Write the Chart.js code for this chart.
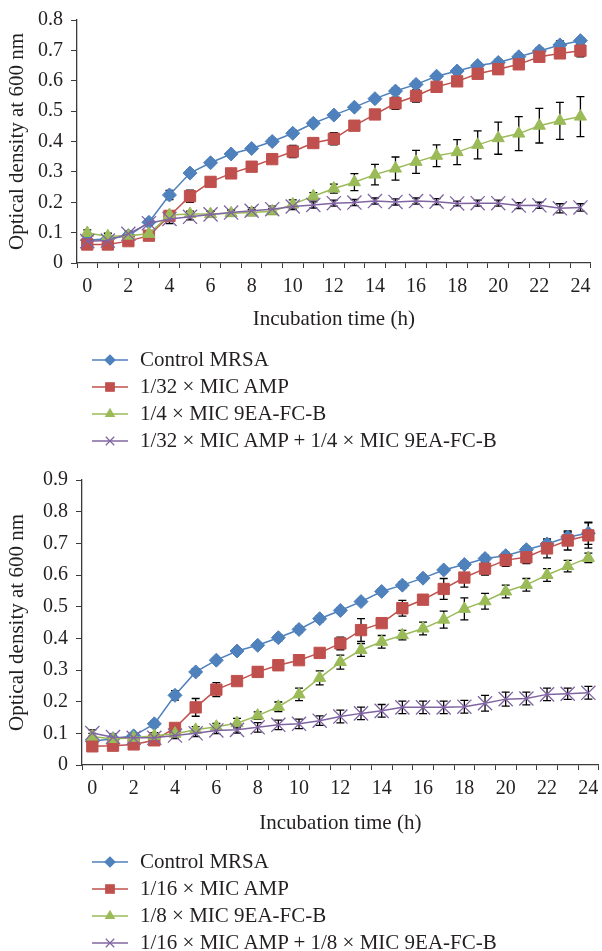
<!DOCTYPE html>
<html>
<head>
<meta charset="utf-8">
<script src="https://cdn.jsdelivr.net/npm/chart.js@4/dist/chart.umd.min.js"></script>
<style>
  body { margin: 0; width: 602px; height: 951px; overflow: hidden; background: #fff; }
  .plot { position: relative; overflow: hidden; width: 602px; }
  .legend { font-family: 'Liberation Serif', serif; font-size: 21px; color: #231f20; }
  .legend .row { display: flex; align-items: center; height: 27px; }
  .legend canvas { margin-left: 92px; margin-right: 12px; }
</style>
</head>
<body>
<div class="plot" style="height:340px"><canvas id="chartA" width="602" height="340"></canvas></div>
<div class="legend" id="legendA" style="height:120px;padding-top:6px;box-sizing:border-box"></div>
<div class="plot" style="height:380px"><canvas id="chartB" width="610" height="380"></canvas></div>
<div class="legend" id="legendB" style="height:111px;padding-top:8px;box-sizing:border-box"></div>
<script>
'use strict';

const hours = ['0','1','2','3','4','5','6','7','8','9','10','11','12','13','14','15','16','17','18','19','20','21','22','23','24'];

// panel A
const namesA = ['Control MRSA', '1/32 × MIC AMP', '1/4 × MIC 9EA-FC-B', '1/32 × MIC AMP + 1/4 × MIC 9EA-FC-B'];
const ctrlA  = [0.075,0.080,0.090,0.134,0.224,0.296,0.330,0.359,0.377,0.400,0.427,0.460,0.487,0.513,0.541,0.566,0.588,0.615,0.632,0.650,0.660,0.679,0.698,0.718,0.732];
const ampA   = [0.061,0.061,0.072,0.090,0.155,0.220,0.267,0.295,0.317,0.342,0.367,0.395,0.409,0.452,0.489,0.526,0.550,0.580,0.598,0.623,0.638,0.654,0.679,0.690,0.699];
const eaA    = [0.099,0.088,0.090,0.096,0.158,0.161,0.161,0.164,0.166,0.170,0.193,0.220,0.245,0.266,0.291,0.311,0.333,0.353,0.365,0.389,0.411,0.426,0.452,0.468,0.482];
const comboA = [0.072,0.074,0.096,0.131,0.145,0.152,0.160,0.166,0.172,0.177,0.186,0.191,0.197,0.199,0.204,0.201,0.204,0.202,0.196,0.197,0.197,0.189,0.190,0.180,0.183];
const ctrlErrA  = [0.005,0.005,0.005,0.010,0.015,0.010,0.008,0.008,0.008,0.010,0.010,0.010,0.008,0.008,0.008,0.010,0.010,0.008,0.010,0.010,0.010,0.010,0.010,0.013,0.010];
const ampErrA   = [0.005,0.005,0.005,0.010,0.015,0.020,0.015,0.010,0.010,0.010,0.020,0.010,0.020,0.010,0.010,0.020,0.020,0.010,0.015,0.015,0.015,0.010,0.010,0.015,0.020];
const eaErrA    = [0.010,0.010,0.010,0.010,0.010,0.010,0.010,0.010,0.010,0.010,0.015,0.012,0.015,0.028,0.034,0.038,0.038,0.036,0.041,0.046,0.053,0.056,0.057,0.061,0.066];
const comboErrA = [0.010,0.010,0.010,0.010,0.015,0.010,0.010,0.010,0.010,0.010,0.010,0.010,0.010,0.010,0.010,0.010,0.010,0.010,0.008,0.010,0.010,0.010,0.010,0.015,0.012];

// panel B
const namesB = ['Control MRSA', '1/16 × MIC AMP', '1/8 × MIC 9EA-FC-B', '1/16 × MIC AMP + 1/8 × MIC 9EA-FC-B'];
const ctrlB  = [0.075,0.083,0.092,0.130,0.220,0.294,0.331,0.360,0.378,0.402,0.428,0.462,0.488,0.516,0.548,0.568,0.590,0.616,0.633,0.652,0.661,0.680,0.698,0.720,0.732];
const ampB   = [0.059,0.061,0.065,0.078,0.117,0.182,0.238,0.265,0.294,0.315,0.331,0.354,0.384,0.426,0.448,0.495,0.522,0.556,0.592,0.620,0.647,0.656,0.684,0.709,0.725];
const eaB    = [0.090,0.082,0.086,0.092,0.099,0.111,0.121,0.132,0.156,0.184,0.223,0.275,0.325,0.363,0.389,0.410,0.431,0.459,0.493,0.517,0.548,0.569,0.600,0.628,0.654];
const comboB = [0.101,0.088,0.086,0.086,0.093,0.100,0.109,0.111,0.119,0.127,0.130,0.140,0.153,0.163,0.171,0.182,0.182,0.182,0.184,0.195,0.208,0.210,0.223,0.225,0.228];
const ctrlErrB  = [0.005,0.005,0.005,0.010,0.015,0.010,0.008,0.008,0.008,0.010,0.010,0.010,0.008,0.008,0.008,0.010,0.010,0.008,0.010,0.010,0.010,0.010,0.012,0.015,0.035];
const ampErrB   = [0.005,0.005,0.005,0.008,0.010,0.028,0.022,0.010,0.015,0.010,0.010,0.010,0.020,0.036,0.010,0.025,0.010,0.033,0.030,0.020,0.020,0.020,0.030,0.030,0.040];
const eaErrB    = [0.010,0.010,0.010,0.010,0.010,0.010,0.010,0.015,0.012,0.015,0.020,0.022,0.022,0.020,0.020,0.015,0.020,0.027,0.035,0.025,0.020,0.020,0.020,0.018,0.015];
const comboErrB = [0.010,0.010,0.010,0.010,0.010,0.010,0.010,0.010,0.015,0.015,0.015,0.015,0.020,0.020,0.020,0.020,0.020,0.020,0.020,0.025,0.022,0.020,0.020,0.018,0.020];

const colors = ['#4f81bd', '#c0504d', '#9bbb59', '#8064a2'];
const shapes = ['rectRot', 'rect', 'triangle', 'crossRot'];
const radii = [7, 8, 7, 10];
const legendRadii = [5, 6, 5, 6];
const textColor = '#231f20';
const axisColor = '#3a3a3a';
const serif = "'Liberation Serif', serif";

// error bars go under the markers, positioned with the y scale
const errorBars = {
    id: 'errorBars',
    beforeDatasetsDraw(chart) {
        const ctx = chart.ctx;
        const yScale = chart.scales.y;
        ctx.save();
        ctx.strokeStyle = '#000';
        ctx.lineWidth = 1.3;
        chart.data.datasets.forEach((ds, i) => {
            const meta = chart.getDatasetMeta(i);
            meta.data.forEach((pt, j) => {
                const e = ds.errors[j];
                const top = yScale.getPixelForValue(ds.data[j] + e);
                const bot = yScale.getPixelForValue(ds.data[j] - e);
                ctx.beginPath();
                ctx.moveTo(pt.x, top); ctx.lineTo(pt.x, bot);
                ctx.moveTo(pt.x - 4, top); ctx.lineTo(pt.x + 4, top);
                ctx.moveTo(pt.x - 4, bot); ctx.lineTo(pt.x + 4, bot);
                ctx.stroke();
            });
        });
        ctx.restore();
    }
};

function makeChart(id, names, series, errors, yMax, box) {
    const datasets = series.map((values, i) => ({
        label: names[i],
        data: values,
        errors: errors[i],
        borderColor: colors[i],
        backgroundColor: colors[i],
        borderWidth: 1.5,
        pointStyle: shapes[i],
        pointRadius: radii[i],
        pointHoverRadius: radii[i],
        pointBorderWidth: i === 3 ? 1.3 : 1,
        pointBorderColor: colors[i],
        pointBackgroundColor: colors[i],
        tension: 0,
        order: 4 - i
    }));

    return new Chart(document.getElementById(id), {
        type: 'line',
        data: { labels: hours, datasets: datasets },
        options: {
            responsive: false,
            animation: false,
            events: [],
            layout: { padding: { top: box.top, right: box.right, left: 0, bottom: 0 } },
            plugins: { legend: { display: false }, tooltip: { enabled: false } },
            scales: {
                x: {
                    type: 'category',
                    offset: true,
                    afterFit: (s) => { s.height = box.xHeight; },
                    grid: { offset: true, drawOnChartArea: false, drawTicks: true, tickLength: 5, color: axisColor, lineWidth: 1 },
                    border: { display: true, color: axisColor, width: 1.3 },
                    ticks: {
                        autoSkip: false,
                        maxRotation: 0,
                        padding: 7,
                        color: textColor,
                        font: { family: serif, size: 20 },
                        callback: (v, idx) => (idx % 2 === 0 ? hours[idx] : '')
                    },
                    title: {
                        display: true,
                        text: 'Incubation time (h)',
                        color: textColor,
                        font: { family: serif, size: 21 },
                        padding: { top: 0, bottom: box.titlePad }
                    }
                },
                y: {
                    min: 0,
                    max: yMax,
                    afterFit: (s) => { s.width = box.yWidth; },
                    grid: { drawOnChartArea: false, drawTicks: true, tickLength: 6, color: axisColor, lineWidth: 1 },
                    border: { display: true, color: axisColor, width: 1.3 },
                    ticks: {
                        stepSize: 0.1,
                        padding: 8,
                        color: textColor,
                        font: { family: serif, size: 20 },
                        callback: (v) => (Math.round(v * 10) === 0 ? '0' : (Math.round(v * 10) / 10).toFixed(1))
                    },
                    title: {
                        display: true,
                        text: 'Optical density at 600 nm',
                        color: textColor,
                        font: { family: serif, size: 21 },
                        padding: { top: 5, bottom: 0 }
                    }
                }
            }
        },
        plugins: [errorBars]
    });
}

function makeLegend(id, names) {
    const holder = document.getElementById(id);
    names.forEach((name, i) => {
        const row = document.createElement('div');
        row.className = 'row';
        const c = document.createElement('canvas');
        c.width = 36; c.height = 16;
        const g = c.getContext('2d');
        g.strokeStyle = colors[i];
        g.lineWidth = 1.5;
        g.beginPath(); g.moveTo(0, 8); g.lineTo(36, 8); g.stroke();
        g.fillStyle = colors[i];
        g.lineWidth = 1.2;
        Chart.helpers.drawPoint(g, { pointStyle: shapes[i], radius: legendRadii[i], rotation: 0, borderWidth: 1.2 }, 18, 8);
        const span = document.createElement('span');
        span.textContent = name;
        row.appendChild(c);
        row.appendChild(span);
        holder.appendChild(row);
    });
}

makeChart('chartA', namesA, [ctrlA, ampA, eaA, comboA], [ctrlErrA, ampErrA, eaErrA, comboErrA], 0.8,
    { top: 17, right: 3, xHeight: 77, yWidth: 77, titlePad: 8 });
makeChart('chartB', namesB, [ctrlB, ampB, eaB, comboB], [ctrlErrB, ampErrB, eaErrB, comboErrB], 0.9,
    { top: 16, right: 3, xHeight: 75, yWidth: 82, titlePad: 4 });
makeLegend('legendA', namesA);
makeLegend('legendB', namesB);
</script>
</body>
</html>
